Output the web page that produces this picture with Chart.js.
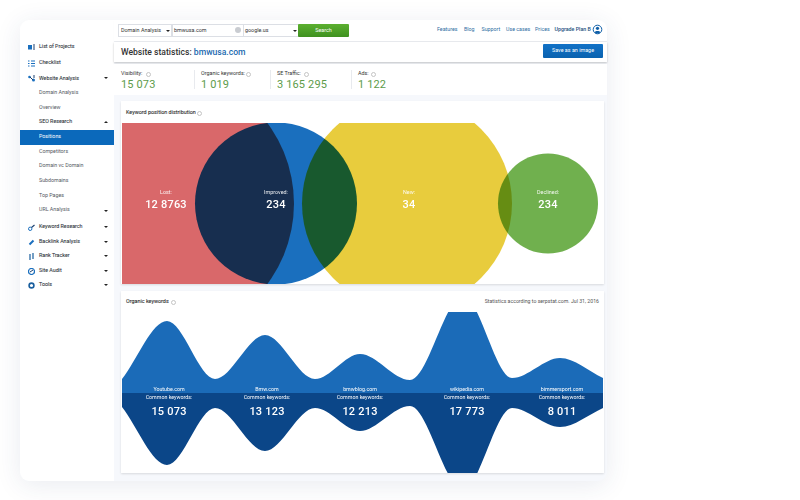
<!DOCTYPE html>
<html><head><meta charset="utf-8">
<script src="https://cdn.jsdelivr.net/npm/chart.js@4"></script>
<style>
html,body{margin:0;padding:0;background:#fff;width:800px;height:500px;overflow:hidden;font-family:Roboto,sans-serif;color:#333}
.a{position:absolute;white-space:nowrap;line-height:1}
#card{position:absolute;left:20px;top:20px;width:587px;height:461px;background:#f6f8fc;border-radius:9px;box-shadow:0 4px 26px rgba(40,60,110,.10)}
#side{position:absolute;left:20px;top:20px;width:94px;height:461px;background:#fff;border-radius:9px 0 0 9px}
#top{position:absolute;left:114px;top:20px;width:493px;height:21px;background:#fff;border-radius:0 9px 0 0;box-shadow:0 1px 1px rgba(0,0,0,.05)}
#title{position:absolute;left:114px;top:42px;width:493px;height:20px;background:#fff;box-shadow:0 1px 2px rgba(0,0,0,.22)}
#stats{position:absolute;left:114px;top:64px;width:493px;height:31px;background:#fff}
.panel{position:absolute;left:121px;width:483px;background:#fff;box-shadow:0 1px 2px rgba(0,0,0,.12)}
.inp{position:absolute;top:24px;height:13px;background:#fff;border:1px solid #dcdfe5;box-sizing:border-box}
.nav{font-size:5.3px;color:#2d6d9f;top:26.5px}
.si{font-size:5.3px;color:#555a63;left:39px}
.sm{color:#3a3f48;-webkit-text-stroke:.1px #3a3f48}
.car{position:absolute;width:0;height:0;border-left:2.2px solid transparent;border-right:2.2px solid transparent;border-top:2.4px solid #222}
.car.up{border-top:0;border-bottom:2.4px solid #222}
.lab{font-size:5.4px;color:#333;top:71px}
.val{font-size:11px;color:#5d9c4a;top:79px;letter-spacing:.15px}
.q{position:absolute;width:3.4px;height:3.4px;border:.8px solid #c4c4c4;border-radius:50%;box-sizing:content-box}
.div{position:absolute;top:70px;width:1px;height:19px;background:#e8eaee}
canvas{display:block}
.wrap{position:absolute}
.ct{color:#fff;text-align:center;transform:translateX(-50%)}
.ic{position:absolute;left:28px;width:7px;height:7px}
</style></head><body>
<div id="card"></div><div id="side"></div><div id="top"></div><div id="title"></div><div id="stats"></div>

<div class="inp" style="left:118px;width:54px"></div>
<div class="inp" style="left:172px;width:72px"></div>
<div class="inp" style="left:243px;width:56px"></div>
<div class="a" style="left:121px;top:27.5px;font-size:5.4px">Domain Analysis</div>
<div class="a" style="left:174px;top:27.5px;font-size:5.4px">bmwusa.com</div>
<div class="a" style="left:245px;top:27.5px;font-size:5.4px">google.us</div>
<div class="car" style="left:166px;top:29.5px"></div><div class="car" style="left:293px;top:29.5px"></div>
<div style="position:absolute;left:235px;top:27px;width:6px;height:6px;border-radius:50%;background:#c9ccd1"></div>
<div style="position:absolute;left:298px;top:24px;width:51px;height:13px;background:linear-gradient(#5cb030,#3f9120);border-radius:1px"></div>
<div class="a" style="left:323.5px;top:27.5px;font-size:5.4px;color:#fff;transform:translateX(-50%)">Search</div>
<div class="a nav" style="left:437px">Features</div>
<div class="a nav" style="left:464px">Blog</div>
<div class="a nav" style="left:481.5px">Support</div>
<div class="a nav" style="left:506px">Use cases</div>
<div class="a nav" style="left:535px">Prices</div>
<div class="a nav" style="left:554.5px;font-weight:500;color:#25527f">Upgrade Plan B</div>
<svg style="position:absolute;left:592px;top:24px" width="11" height="11" viewBox="0 0 11 11"><circle cx="5.5" cy="5.5" r="4.3" fill="#fff" stroke="#0f5fa8" stroke-width="1"/><circle cx="5.5" cy="4.3" r="1.6" fill="#0f5fa8"/><path d="M2.6 8.2c.8-1.6 5-1.6 5.8 0l-1.5 1.2h-3z" fill="#0f5fa8"/></svg>

<div class="a" style="left:121px;top:47.5px;font-size:8.6px;font-weight:500;color:#333">Website statistics: <span style="color:#1b6ab0">bmwusa.com</span></div>
<div style="position:absolute;left:543px;top:44px;width:60px;height:14px;background:linear-gradient(#1272c7,#0a62af);border-radius:1px"></div>
<div class="a" style="left:573px;top:48px;font-size:5.4px;color:#fff;transform:translateX(-50%)">Save as an image</div>

<div class="a lab" style="left:121px">Visibility:</div><div class="q" style="left:146px;top:72px"></div>
<div class="a val" style="left:121px">15 073</div>
<div class="a lab" style="left:201px">Organic keywords:</div><div class="q" style="left:246px;top:72px"></div>
<div class="a val" style="left:201px">1 019</div>
<div class="a lab" style="left:277px">SE Traffic:</div><div class="q" style="left:304px;top:72px"></div>
<div class="a val" style="left:277px">3 165 295</div>
<div class="a lab" style="left:358px">Ads:</div><div class="q" style="left:371px;top:72px"></div>
<div class="a val" style="left:358px">1 122</div>
<div class="div" style="left:194px"></div><div class="div" style="left:270px"></div><div class="div" style="left:351px"></div>

<div id="sidebar"></div>

<div class="panel" style="top:101px;height:183px"></div>
<div class="a" style="left:126px;top:109.5px;font-size:5.4px;-webkit-text-stroke:.1px #333">Keyword position distribution</div><div class="q" style="left:197px;top:110.5px"></div>
<div class="wrap" style="left:122px;top:123px;width:481px;height:161px"><canvas id="venn" width="481" height="161"></canvas></div>
<div id="vennText"></div>

<div class="panel" style="top:291px;height:182px"></div>
<div class="a" style="left:126px;top:298.5px;font-size:5.4px;-webkit-text-stroke:.1px #333">Organic keywords</div><div class="q" style="left:171px;top:299.5px"></div>
<div class="a" style="right:201px;top:298.5px;font-size:5.2px;color:#555">Statistics according to serpstat.com. Jul 31, 2016</div>
<div class="wrap" style="left:122px;top:312px;width:481px;height:161px"><canvas id="wave" width="481" height="161"></canvas></div>
<div id="waveText"></div>

<script>
// ---- sidebar
const navItems = ["List of Projects","Checklist","Website Analysis","Domain Analysis","Overview","SEO Research","Positions","Competitors","Domain vc Domain","Subdomains","Top Pages","URL Analysis","Keyword Research","Backlink Analysis","Rank Tracker","Site Audit","Tools"];
// ---- venn
const vennLabels = ["Lost:","Improved:","New:","Declined:"];
const vennTexts  = ["12 8763","234","34","234"];
const vennX = [37,154,285,426];
const vennY = [80.5,80.5,80.5,80.5];
const vennR = [135,81,105,50];
const vennColors = ["#d9686a","#1a6fbe","#e8cc3d","#70b04e"];
// ---- wave
const sites = ["Youtube.com","Bmw.com","bmwblog.com","wikipedia.com","bimmersport.com"];
const common = ["15 073","13 123","12 213","17 773","8 011"];
const waveX = [0,45,93,143,193,238,288,341,390,438,481];
const topWave = [14,72,14,58,14,39,13,97,15,35,15];
const bottomWave = [-14,-72,-15,-58,-15,-38,-13,-97,-15,-34,-15];

const sb=document.getElementById('sidebar');
const navY=[47,63,78.5,93,108,122,137,152,166,181,196,210,227,242,256,271,285];
const main=[0,1,2,12,13,14,15,16];
const carets={2:0,5:1,11:0,12:0,13:0,14:0,15:0,16:0};
const iconSvg=(i)=>['<rect x="0" y="1" width="4" height="4.5" fill="#1a6fbe"/><path d="M5 1h2M5 3h2M5 5h2" stroke="#1a3f6e"/>',
 '<path d="M0 1h1.5M3 1h4M0 3.5h1.5M3 3.5h4M0 6h1.5M3 6h4" stroke="#1a6fbe" stroke-width="1.1"/>',
 '<circle cx="1.5" cy="2" r="1.3" fill="#1a6fbe"/><circle cx="5.5" cy="5" r="1.5" fill="#1a6fbe"/><path d="M2 2l3 3M6 0v3" stroke="#1a3f6e"/>'][i];
const lowerIcon={12:'<circle cx="2.2" cy="4.8" r="1.7" fill="none" stroke="#1a6fbe"/><path d="M3.5 3.5L6.5 1" stroke="#1a3f6e" stroke-width="1.1"/>',
 13:'<path d="M1.5 5.5l4-4" stroke="#1a6fbe" stroke-width="2"/>',
 14:'<path d="M2 1v6M5 0v6" stroke="#1a5f9e" stroke-width="1.2"/>',
 15:'<circle cx="3.5" cy="3.5" r="3" fill="none" stroke="#1a6fbe" stroke-width="1.2"/><path d="M2 4l3-2" stroke="#1a3f6e"/>',
 16:'<circle cx="3.5" cy="3.5" r="2.4" fill="none" stroke="#1a5f9e" stroke-width="1.6"/>'};
let h='<div style="position:absolute;left:20px;top:130px;width:94px;height:14.5px;background:#0b69bb"></div>';
navItems.forEach((t,i)=>{
  const isMain=main.includes(i), sub=i===5, act=i===6;
  h+=`<div class="a si ${isMain||sub?'sm':''}" style="left:39px;top:${navY[i]-2.8}px;${act?'color:#fff;':''}">${t}</div>`;
  if(i<3) h+=`<svg class="ic" viewBox="0 0 7 7" style="top:${navY[i]-3.5}px">${iconSvg(i)}</svg>`;
  if(lowerIcon[i]) h+=`<svg class="ic" viewBox="0 0 7 7" style="top:${navY[i]-3.5}px">${lowerIcon[i]}</svg>`;
  if(i in carets) h+=`<div class="car ${carets[i]?'up':''}" style="left:103.5px;top:${navY[i]-1.2+(i===11?1:0)}px"></div>`;
});
sb.innerHTML=h;

// ---- venn text
const vennTextX=[166,276,409,548];
document.getElementById('vennText').innerHTML=vennLabels.map((l,i)=>
 `<div class="a ct" style="left:${vennTextX[i]}px;top:190px;font-size:5.4px;opacity:.92">${l}</div>`+
 `<div class="a ct" style="left:${vennTextX[i]}px;top:199px;font-size:11px;font-weight:500;letter-spacing:.2px">${vennTexts[i]}</div>`).join('');

// ---- wave text
const siteX=[169,267,360,467,562];
document.getElementById('waveText').innerHTML=sites.map((s,i)=>
 `<div class="a ct" style="left:${siteX[i]}px;top:387px;font-size:5.3px">${s}</div>`+
 `<div class="a ct" style="left:${siteX[i]}px;top:395px;font-size:5.3px">Common keywords:</div>`+
 `<div class="a ct" style="left:${siteX[i]}px;top:406px;font-size:11px;font-weight:500;letter-spacing:.2px">${common[i]}</div>`).join('');

// ---- charts
Chart.defaults.animation=false;
const multiply={id:'multiply',
  beforeDraw(c){const x=c.ctx;x.save();x.fillStyle='#fff';x.fillRect(0,0,c.width,c.height);x.restore();},
  beforeDatasetDraw(c){c.ctx.save();c.ctx.globalCompositeOperation='multiply';},
  afterDatasetDraw(c){c.ctx.restore();}};
new Chart(document.getElementById('venn'),{
  type:'bubble',plugins:[multiply],
  data:{datasets:vennX.map((x,i)=>({label:vennLabels[i],data:[{x,y:vennY[i],r:vennR[i]}],backgroundColor:vennColors[i],borderWidth:0}))},
  options:{responsive:false,animation:false,layout:{padding:0,autoPadding:false},
    plugins:{legend:{display:false},tooltip:{enabled:false}},
    scales:{x:{type:'linear',min:0,max:481,display:false},y:{type:'linear',min:0,max:161,display:false}}}
});
new Chart(document.getElementById('wave'),{
  type:'line',
  data:{datasets:[
    {label:'Top',data:waveX.map((x,i)=>({x,y:topWave[i]})),fill:{value:0},backgroundColor:'#1b6bb8',borderWidth:0,pointRadius:0,cubicInterpolationMode:'monotone'},
    {label:'Common',data:waveX.map((x,i)=>({x,y:bottomWave[i]})),fill:{value:0},backgroundColor:'#0b4688',borderWidth:0,pointRadius:0,cubicInterpolationMode:'monotone'}
  ]},
  options:{responsive:false,animation:false,layout:{padding:0,autoPadding:false},
    plugins:{legend:{display:false},tooltip:{enabled:false}},
    scales:{x:{type:'linear',min:0,max:481,display:false},y:{type:'linear',min:-80,max:81,display:false}}}
});
</script>
</body></html>
